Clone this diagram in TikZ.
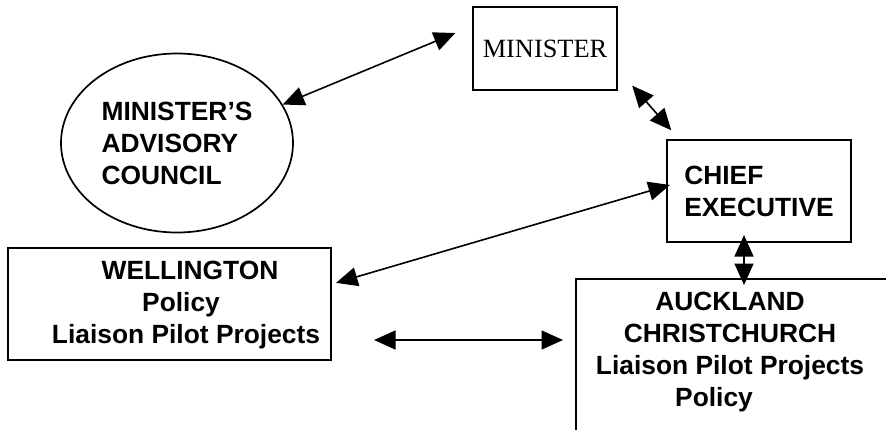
\documentclass[tikz,border=0pt]{standalone}
\usepackage{fontspec}
\setmainfont{Liberation Sans}
\newfontfamily\timesfont{Liberation Serif}
\usepackage{tikz}
\usetikzlibrary{positioning,arrows.meta,shapes.geometric}

\begin{document}
\begin{tikzpicture}[x=0.2mm,y=-0.2mm,
  lbl/.style={font=\fontsize{15}{18.2}\selectfont\bfseries},
  box/.style={draw,line width=0.42mm,inner sep=0pt},
  link/.style={line width=0.32mm,>={Triangle[length=4.3mm,width=3.8mm]},<->}]
\useasboundingbox (0,0) rectangle (886,429);
\clip (0,0) rectangle (886,429);
\node[ellipse,draw,line width=0.34mm,minimum width=46.4mm,minimum height=35.8mm,lbl,align=left] (mac) at (177,143) {MINISTER'S\\ADVISORY\\COUNCIL};
\node[box,font=\fontsize{15}{18.2}\selectfont\timesfont,minimum width=28.8mm,minimum height=16.6mm] (min) at (545,48.5) {MINISTER};
\node[box,lbl,align=left,minimum width=36.8mm,minimum height=20.4mm] (chf) at (759,191) {CHIEF\\EXECUTIVE};
\node[box,minimum width=64.6mm,minimum height=22.4mm] (wel) at (169.5,304) {};
\node[lbl,align=center] (welt) at (186,305) {\hspace*{1.6mm}WELLINGTON\\\hspace*{-2mm}Policy\\Liaison Pilot Projects};
\node[box,anchor=north west,minimum width=80mm,minimum height=50mm] (auk) at (575,278) {};
\node[lbl,align=center] (aukt) at (730,352) {AUCKLAND\\CHRISTCHURCH\\Liaison Pilot Projects\\\hspace*{-6.4mm}Policy};
\draw[link,shorten >=3.6mm] (mac.20) -- (min.163);
\draw[link,shorten <=4.3mm,shorten >=2.3mm] (min.-16.5) -- (chf.147);
\draw[link,shorten <=0.83mm,shorten >=-0.83mm] (wel.7.5) -- (chf.177.4);
\draw[link,shorten <=8.4mm,shorten >=2.4mm] ([yshift=-7.2mm]wel.east) -- ([yshift=-7.2mm]wel.east -| auk.west);
\draw[link,shorten <=-1.6mm,shorten >=-1.4mm] ([xshift=-3mm]chf.south) -- ([xshift=-3mm]chf.south |- auk.north);
\end{tikzpicture}
\end{document}
